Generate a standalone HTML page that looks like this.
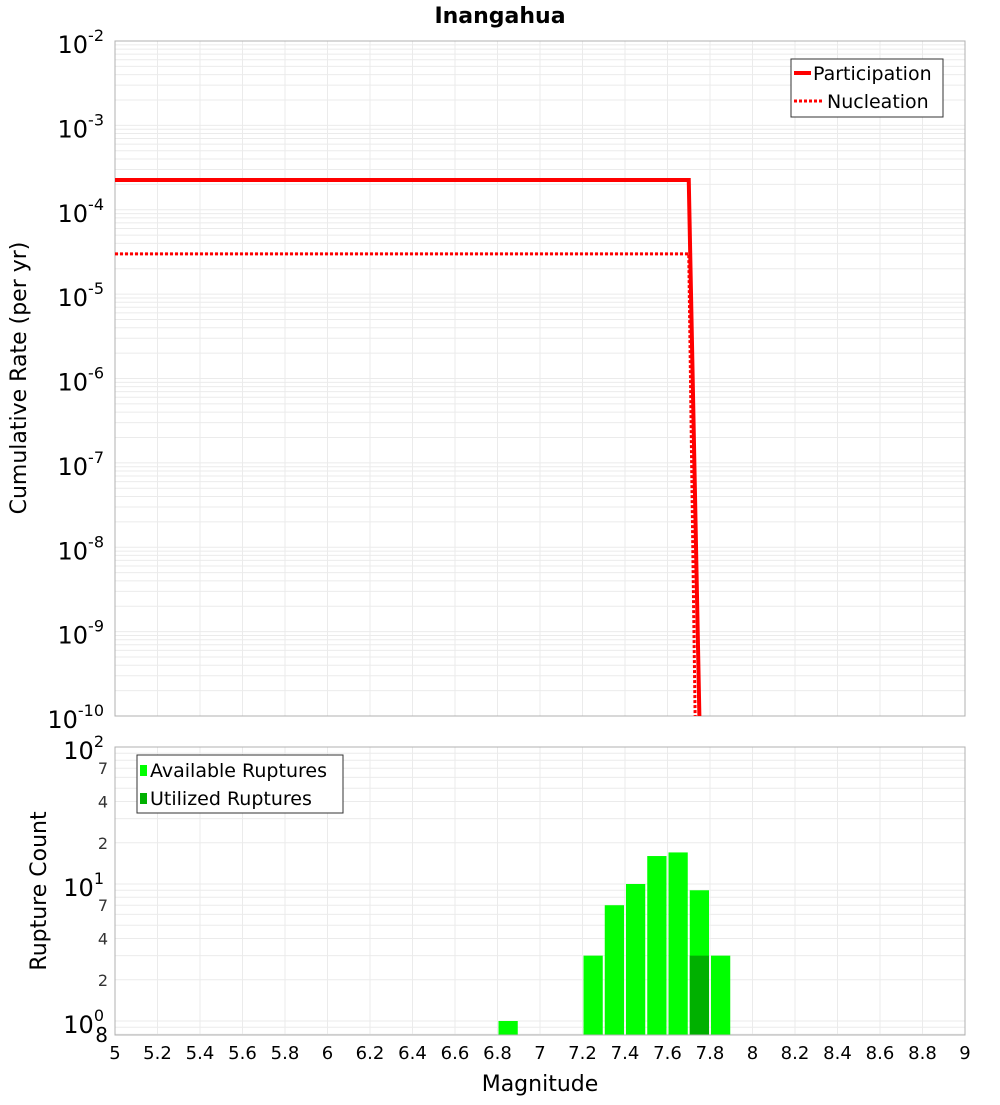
<!DOCTYPE html>
<html><head><meta charset="utf-8"><style>
body{margin:0;background:#fff;}
svg{font-family:"DejaVu Sans","Liberation Sans",sans-serif;}
</style></head><body>
<svg id="c" width="1000" height="1100" xmlns="http://www.w3.org/2000/svg">
<text x="500" y="23" text-anchor="middle" font-size="22" font-weight="bold">Inangahua</text>
<g id="topplot"></g>
<g id="botplot"></g>
<text transform="translate(26,378) rotate(-90)" text-anchor="middle" font-size="22">Cumulative Rate (per yr)</text>
<text transform="translate(46,891) rotate(-90)" text-anchor="middle" font-size="22">Rupture Count</text>
<text x="540" y="1091" text-anchor="middle" font-size="22">Magnitude</text>
</svg>
<script>
const xTicks=[5,5.2,5.4,5.6,5.8,6,6.2,6.4,6.6,6.8,7,7.2,7.4,7.6,7.8,8,8.2,8.4,8.6,8.8,9];
const partMag=[5,7.7,7.75];
const partRate=[2.25e-4,2.25e-4,1e-10];
const nuclMag=[5,7.7,7.73];
const nuclRate=[3.0e-5,3.0e-5,1e-10];
const barMag=[6.85,7.25,7.35,7.45,7.55,7.65,7.75,7.85];
const barAvail=[1,3,7,10,16,17,9,3];
const barUsed=[0,0,0,0,0,0,3,0];
const NS="http://www.w3.org/2000/svg";
const X0=115,X1=965;
const xs=m=>X0+(m-5)/4*(X1-X0);
const T0=41,T1=716;
const ysTop=v=>T0+(-2-Math.log10(v))/8*(T1-T0);
const B0=747,B1=1035;
const ysBot=v=>1021-Math.log10(v)*137;
function mk(p,t,a){const e=document.createElementNS(NS,t);for(const k in a)e.setAttribute(k,a[k]);p.appendChild(e);return e;}
const topG=document.getElementById('topplot'),botG=document.getElementById('botplot');
for(let d=-10;d<-2;d++)for(let k=1;k<10;k++){const y=ysTop(k*Math.pow(10,d));const g=mk(topG,'line',{x1:X0,x2:X1,y1:y,y2:y,stroke:'#ebebeb','stroke-width':1});

}
xTicks.forEach(m=>{const g=mk(topG,'line',{x1:xs(m),x2:xs(m),y1:T0,y2:T1,stroke:'#ebebeb'});


const g2=mk(botG,'line',{x1:xs(m),x2:xs(m),y1:B0,y2:B1,stroke:'#ebebeb'});

});
for(let d=-10;d<=-2;d++){const y=ysTop(Math.pow(10,d));const t=mk(topG,'text',{x:104,y:y+12,'text-anchor':'end','font-size':24});


t.innerHTML='10<tspan dy="-12" font-size="16">'+d+'</tspan>';}
const fr=mk(topG,'rect',{x:X0,y:T0,width:X1-X0,height:T1-T0,fill:'none',stroke:'#b0b0b0'});


function path(mags,rates){return mags.map((m,i)=>(i?'L':'M')+xs(m)+','+ysTop(rates[i])).join(' ');}
const pl=mk(topG,'path',{d:path(partMag,partRate),fill:'none',stroke:'#ff0000','stroke-width':4});


const nl=mk(topG,'path',{d:path(nuclMag,nuclRate),fill:'none',stroke:'#ff0000','stroke-width':3,'stroke-dasharray':'3,2'});


const lg=mk(topG,'g',{});


mk(lg,'rect',{x:791,y:59,width:152,height:58,fill:'#fff',stroke:'#333'});
mk(lg,'line',{x1:794,x2:811,y1:73,y2:73,stroke:'#f00','stroke-width':4});
mk(lg,'line',{x1:794,x2:822,y1:101,y2:101,stroke:'#f00','stroke-width':3,'stroke-dasharray':'3,2'});
const l1=mk(lg,'text',{x:813,y:80,'font-size':19});l1.textContent='Participation';


const l2=mk(lg,'text',{x:827,y:108,'font-size':19});l2.textContent='Nucleation';


[1,2,3,4,5,6,7,8,9,10,20,30,40,50,60,70,80,90,100,0.8,0.9].forEach(v=>{const y=ysBot(v);if(y<B0||y>B1)return;const g=mk(botG,'line',{x1:X0,x2:X1,y1:y,y2:y,stroke:'#ebebeb'});

});
[[100,'10','2'],[10,'10','1'],[1,'10','0']].forEach(a=>{const y=ysBot(a[0]);const t=mk(botG,'text',{x:104,y:y+12,'text-anchor':'end','font-size':24});


t.innerHTML=a[1]+'<tspan dy="-12" font-size="16">'+a[2]+'</tspan>';});
[70,40,20,7,4,2].forEach(v=>{const t=mk(botG,'text',{x:108,y:ysBot(v)+6,'text-anchor':'end','font-size':16,fill:'#333'});t.textContent=String(v).charAt(0);

});
const e8=mk(botG,'text',{x:108,y:1042,'text-anchor':'end','font-size':20});e8.textContent='8';


barMag.forEach((m,i)=>{const x=xs(m-0.05)+1,w=xs(m+0.05)-xs(m-0.05)-2;
const y=ysBot(barAvail[i]);const r=mk(botG,'rect',{x:x,y:y,width:w,height:B1-y,fill:'#00ff00'});


if(barUsed[i]>0){const y2=ysBot(barUsed[i]);const r2=mk(botG,'rect',{x:x,y:y2,width:w,height:B1-y2,fill:'#00b000'});

}});
const fb=mk(botG,'rect',{x:X0,y:B0,width:X1-X0,height:B1-B0,fill:'none',stroke:'#b0b0b0'});


xTicks.forEach(m=>{const t=mk(botG,'text',{x:xs(m),y:1059,'text-anchor':'middle','font-size':18});t.textContent=String(m);

});
const bl=mk(botG,'g',{});


mk(bl,'rect',{x:137,y:755,width:206,height:58,fill:'#fff',stroke:'#333'});
mk(bl,'rect',{x:140,y:765,width:7,height:11,fill:'#00ff00'});
mk(bl,'rect',{x:140,y:793,width:7,height:11,fill:'#00b000'});
const b1=mk(bl,'text',{x:150,y:777,'font-size':19});b1.textContent='Available Ruptures';


const b2=mk(bl,'text',{x:150,y:805,'font-size':19});b2.textContent='Utilized Ruptures';


</script>
</body></html>
